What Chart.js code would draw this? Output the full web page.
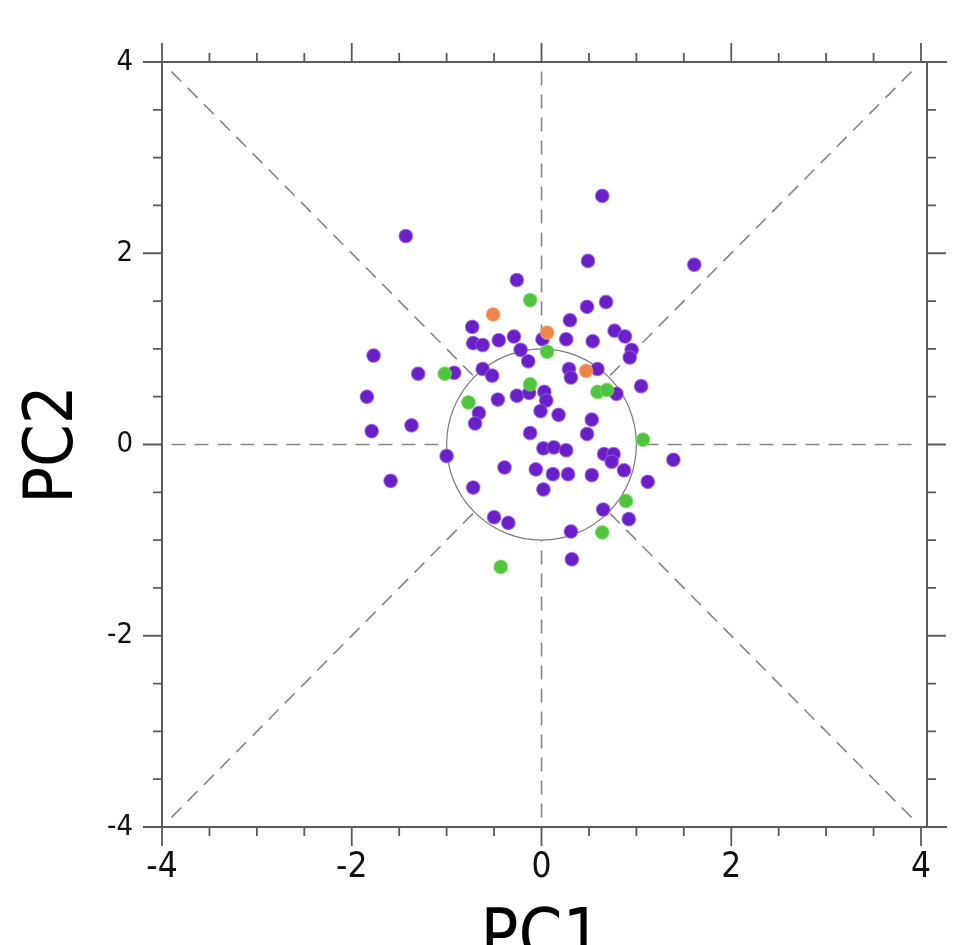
<!DOCTYPE html>
<html><head><meta charset="utf-8">
<script src="https://cdn.jsdelivr.net/npm/chart.js@4/dist/chart.umd.min.js"></script>
<style>html,body{margin:0;padding:0;background:#fff;}canvas{display:block}</style>
</head><body>
<canvas id="c" width="954" height="945"></canvas>
<script>
// ---- data ----
const purpleX = [0.64,-1.43,0.49,1.61,-0.26,0.48,0.68,0.30,-0.73,-0.29,-0.45,-0.72,-0.62,0.01,0.26,0.54,0.77,0.88,0.95,0.93,-0.22,-0.14,-1.77,
  -1.30,-0.92,-0.62,-0.52,0.29,0.31,0.59,-1.84,-1.79,-1.37,-0.46,-0.26,-0.13,0.03,0.05,-0.01,0.18,-0.66,-0.70,0.79,1.05,0.53,0.48,-0.12,
  0.02,0.13,0.26,0.66,0.76,0.74,0.87,1.39,-1.00,-1.59,-0.39,-0.06,0.12,0.28,0.53,1.12,-0.72,0.02,0.65,0.92,-0.50,-0.35,0.31,0.32];
const purpleY = [2.60,2.18,1.92,1.88,1.72,1.44,1.49,1.30,1.23,1.13,1.09,1.06,1.04,1.10,1.10,1.08,1.19,1.13,0.99,0.91,0.99,0.87,0.93,
  0.74,0.75,0.79,0.72,0.79,0.70,0.79,0.50,0.14,0.20,0.47,0.51,0.54,0.55,0.46,0.35,0.31,0.33,0.22,0.53,0.61,0.26,0.11,0.12,
  -0.04,-0.03,-0.06,-0.10,-0.10,-0.18,-0.27,-0.16,-0.12,-0.38,-0.24,-0.26,-0.31,-0.31,-0.32,-0.39,-0.45,-0.47,-0.68,-0.78,-0.76,-0.82,-0.91,-1.20];
const greenX = [-0.12,0.06,-1.02,-0.77,-0.12,0.59,0.69,1.07,0.89,0.64,-0.43];
const greenY = [1.51,0.97,0.74,0.44,0.63,0.55,0.57,0.05,-0.59,-0.92,-1.28];
const orangeX = [-0.51,0.06,0.47];
const orangeY = [1.36,1.17,0.77];

// axis ticks
const axisMin = -4, axisMax = 4, majorStep = 2, minorStep = 0.5;
const tickLabels = ['-4','-2','0','2','4'];
// reference guides: dashed rays from the unit circle out to these end points
const circleRadius = 1;
const guideEndX = [3.9, 3.9, 0, -3.9, -3.9, -3.9, 0, 3.9];
const guideEndY = [0, 3.9, 3.9, 3.9, 0, -3.9, -3.9, -3.9];

const NARROW = '"Liberation Sans Narrow", "Arial Narrow", "DejaVu Sans Condensed", "Liberation Sans", Arial, sans-serif';
const zip = (xs, ys) => xs.map((v, i) => ({x: v, y: ys[i]}));

const guidePlugin = {
  id: 'guides',
  beforeDatasetsDraw(chart) {
    const {ctx, scales: {x, y}} = chart;
    ctx.save();
    ctx.strokeStyle = '#858585';
    ctx.lineWidth = 1.6;
    ctx.setLineDash([14, 9]);
    for (let i = 0; i < guideEndX.length; i++) {
      const ex = guideEndX[i], ey = guideEndY[i];
      const len = Math.hypot(ex, ey);
      const sx = ex / len * circleRadius, sy = ey / len * circleRadius;
      ctx.beginPath();
      ctx.moveTo(x.getPixelForValue(ex), y.getPixelForValue(ey));
      ctx.lineTo(x.getPixelForValue(sx), y.getPixelForValue(sy));
      ctx.stroke();
    }
    ctx.setLineDash([]);
    ctx.strokeStyle = '#7a7a7a';
    ctx.lineWidth = 1.2;
    const cx = x.getPixelForValue(0), cy = y.getPixelForValue(0);
    const rx = x.getPixelForValue(circleRadius) - cx, ry = cy - y.getPixelForValue(circleRadius);
    ctx.beginPath();
    ctx.ellipse(cx, cy, rx, ry, 0, 0, Math.PI * 2);
    ctx.stroke();
    ctx.restore();
  }
};

const framePlugin = {
  id: 'frame',
  afterDraw(chart) {
    const {ctx, chartArea: {left: L, right: R, top: T, bottom: B}, scales: {x, y}} = chart;
    const RF = R + 6, EXT = R + 26;
    ctx.save();
    ctx.strokeStyle = '#5a5a5a';
    ctx.lineWidth = 2;
    ctx.beginPath();
    ctx.moveTo(L, T); ctx.lineTo(EXT, T);
    ctx.moveTo(L, B); ctx.lineTo(EXT, B);
    ctx.moveTo(L, T - 1); ctx.lineTo(L, B + 1);
    ctx.moveTo(RF, T); ctx.lineTo(RF, B);
    ctx.stroke();
    ctx.lineWidth = 1.8;
    ctx.beginPath();
    for (let v = axisMin; v <= axisMax + 1e-9; v += minorStep) {
      const major = Math.abs(v % majorStep) < 1e-9;
      const len = major ? 19 : 9;
      const px = x.getPixelForValue(v), py = y.getPixelForValue(v);
      ctx.moveTo(px, B); ctx.lineTo(px, B + len);
      ctx.moveTo(px, T); ctx.lineTo(px, T - len);
      ctx.moveTo(L, py); ctx.lineTo(L - len, py);
      ctx.moveTo(RF, py); ctx.lineTo(RF + len, py);
    }
    ctx.stroke();
    ctx.restore();
  }
};

const pointStyle = (bg, border) => ({
  backgroundColor: bg, borderColor: border, borderWidth: 1.2, pointRadius: 6.8, pointHoverRadius: 6.8
});

new Chart(document.getElementById('c'), {
  type: 'scatter',
  data: {
    datasets: [
      Object.assign({label: 'orange', data: zip(orangeX, orangeY)}, pointStyle('#f0854c', 'rgba(245,160,110,0.7)')),
      Object.assign({label: 'green', data: zip(greenX, greenY)}, pointStyle('#4fc43d', 'rgba(120,215,100,0.7)')),
      Object.assign({label: 'purple', data: zip(purpleX, purpleY)}, pointStyle('#6a1fc9', 'rgba(150,95,225,0.7)'))
    ]
  },
  options: {
    responsive: false,
    animation: false,
    events: [],
    layout: {padding: {left: 0, right: 33, top: 62, bottom: 0}},
    plugins: {legend: {display: false}, tooltip: {enabled: false}},
    scales: {
      x: {
        type: 'linear', min: axisMin, max: axisMax,
        afterFit(s) { s.height = 118; },
        grid: {display: false}, border: {display: false},
        ticks: {stepSize: majorStep, padding: 12, color: '#111',
          font: {family: NARROW, size: 35},
          callback: (v) => tickLabels[tickLabels.indexOf(String(v))] ?? ''},
        title: {display: true, text: 'PC1', color: '#000',
          font: {family: NARROW, size: 70, lineHeight: 1},
          padding: {top: 0, bottom: -30}}
      },
      y: {
        type: 'linear', min: axisMin, max: axisMax,
        afterFit(s) { s.width = 162; },
        grid: {display: false}, border: {display: false},
        ticks: {stepSize: majorStep, padding: 21, color: '#111',
          font: {family: NARROW, size: 29},
          callback: (v) => tickLabels[tickLabels.indexOf(String(v))] ?? ''},
        title: {display: true, text: 'PC2', color: '#000',
          font: {family: NARROW, size: 68, lineHeight: 1},
          padding: {top: 20, bottom: 0}}
      }
    }
  },
  plugins: [guidePlugin, framePlugin]
});
</script>
</body></html>
